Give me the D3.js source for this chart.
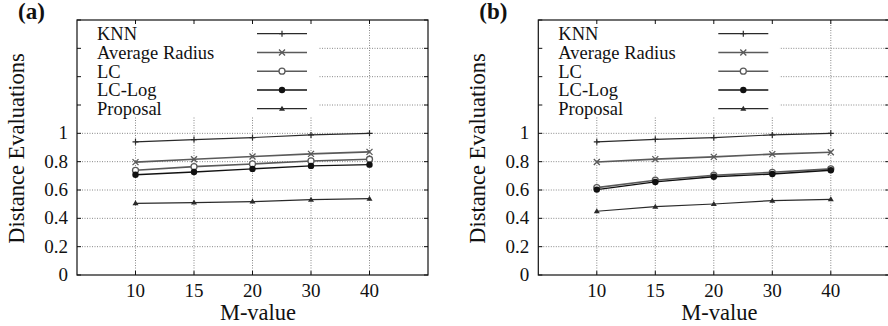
<!DOCTYPE html>
<html>
<head>
<meta charset="utf-8">
<script src="https://cdn.jsdelivr.net/npm/d3@7"></script>
<style>
  html, body { margin: 0; padding: 0; background: #fff; }
  svg { display: block; }
</style>
</head>
<body>
<svg id="chart" width="888" height="326"></svg>
<script>
// categories and tick labels
const mValues = ['10', '15', '20', '30', '40'];
const yTicks = [0, 0.2, 0.4, 0.6, 0.8, 1.0, 1.2, 1.4, 1.6, 1.8];
const yLabelTicks = [0, 0.2, 0.4, 0.6, 0.8, 1];
const seriesNames = ['KNN', 'Average Radius', 'LC', 'LC-Log', 'Proposal'];

// panel (a)
const knnA = [0.94, 0.956, 0.97, 0.989, 1.0];
const avgRadiusA = [0.797, 0.817, 0.836, 0.855, 0.869];
const lcA = [0.739, 0.765, 0.784, 0.805, 0.817];
const lcLogA = [0.708, 0.727, 0.749, 0.770, 0.779];
const proposalA = [0.506, 0.511, 0.518, 0.532, 0.539];

// panel (b)
const knnB = [0.94, 0.958, 0.97, 0.989, 1.0];
const avgRadiusB = [0.798, 0.818, 0.834, 0.853, 0.867];
const lcB = [0.617, 0.669, 0.704, 0.725, 0.749];
const lcLogB = [0.603, 0.657, 0.694, 0.713, 0.739];
const proposalB = [0.45, 0.482, 0.501, 0.525, 0.534];

const styles = [
  {color: '#2a2a2a', width: 1.2, marker: 'plus'},
  {color: '#5a5a5a', width: 1.6, marker: 'cross'},
  {color: '#5a5a5a', width: 1.6, marker: 'circle'},
  {color: '#111', width: 1.4, marker: 'dot'},
  {color: '#2a2a2a', width: 1.2, marker: 'triangle'}
];

const FONT = "'Liberation Serif', 'Times New Roman', Times, 'DejaVu Serif', serif";
const svg = d3.select('#chart');
const plotW = 351, plotH = 255;

function drawMarker(g, type, cx, cy, color) {
  if (type === 'plus') {
    g.append('path').attr('d', `M${cx - 3},${cy}H${cx + 3}M${cx},${cy - 3}V${cy + 3}`)
      .attr('stroke', color).attr('stroke-width', 1.2);
  } else if (type === 'cross') {
    g.append('path').attr('d', `M${cx - 3},${cy - 3}L${cx + 3},${cy + 3}M${cx - 3},${cy + 3}L${cx + 3},${cy - 3}`)
      .attr('stroke', color).attr('stroke-width', 1.3);
  } else if (type === 'circle') {
    g.append('circle').attr('cx', cx).attr('cy', cy).attr('r', 3)
      .attr('fill', '#fff').attr('stroke', color).attr('stroke-width', 1.3);
  } else if (type === 'dot') {
    g.append('circle').attr('cx', cx).attr('cy', cy).attr('r', 3.2).attr('fill', color);
  } else {
    g.append('path').attr('d', `M${cx},${cy - 3}L${cx + 3},${cy + 2}L${cx - 3},${cy + 2}Z`).attr('fill', color);
  }
}

function drawPanel(left, top, label, series) {
  const x = d3.scalePoint().domain(mValues).range([0, plotW]).padding(1);
  const y = d3.scaleLinear().domain([0, 1.8]).range([plotH, 0]);
  const g = svg.append('g').attr('transform', `translate(${left},${top})`)
    .attr('font-family', FONT).attr('fill', '#111');

  // grid
  g.selectAll('.hgrid').data(yTicks.filter(t => t > 0 && t < 1.8)).enter().append('line')
    .attr('x1', 0).attr('x2', plotW).attr('y1', d => y(d)).attr('y2', d => y(d))
    .attr('stroke', '#888').attr('stroke-width', 1).attr('stroke-dasharray', '1,1.5');
  g.selectAll('.vgrid').data(mValues).enter().append('line')
    .attr('x1', d => x(d)).attr('x2', d => x(d)).attr('y1', 0).attr('y2', plotH)
    .attr('stroke', '#888').attr('stroke-width', 1).attr('stroke-dasharray', '1,1.5');

  // legend (opaque box)
  g.append('rect').attr('x', 0.5).attr('y', 0.5).attr('width', 241).attr('height', 96.5).attr('fill', '#fff');

  // series
  const line = d3.line().x((d, i) => x(mValues[i])).y(d => y(d));
  series.forEach((vals, s) => {
    const st = styles[s];
    g.append('path').attr('d', line(vals)).attr('fill', 'none')
      .attr('stroke', st.color).attr('stroke-width', st.width);
    vals.forEach((v, i) => drawMarker(g, st.marker, x(mValues[i]), y(v), st.color));
  });

  // legend entries
  seriesNames.forEach((name, s) => {
    const ly = 13.7 + s * 18.75;
    const st = styles[s];
    g.append('text').attr('x', 20).attr('y', ly + 6.5).attr('font-size', 18.5).text(name);
    g.append('line').attr('x1', 180).attr('x2', 230).attr('y1', ly).attr('y2', ly)
      .attr('stroke', st.color).attr('stroke-width', st.width);
    drawMarker(g, st.marker, 205, ly, st.color);
  });

  // ticks
  yTicks.forEach(t => {
    g.append('line').attr('x1', 0).attr('x2', 4).attr('y1', y(t)).attr('y2', y(t)).attr('stroke', '#111');
    g.append('line').attr('x1', plotW - 4).attr('x2', plotW).attr('y1', y(t)).attr('y2', y(t)).attr('stroke', '#111');
  });
  mValues.forEach(m => {
    g.append('line').attr('x1', x(m)).attr('x2', x(m)).attr('y1', plotH).attr('y2', plotH - 4).attr('stroke', '#111');
    g.append('line').attr('x1', x(m)).attr('x2', x(m)).attr('y1', 0).attr('y2', 4).attr('stroke', '#111');
  });

  // frame
  g.append('rect').attr('x', 0).attr('y', 0).attr('width', plotW).attr('height', plotH)
    .attr('fill', 'none').attr('stroke', '#111').attr('stroke-width', 1.2);

  // tick labels
  g.selectAll('.ylab').data(yLabelTicks).enter().append('text')
    .attr('x', -9).attr('y', d => y(d) + 6).attr('text-anchor', 'end').attr('font-size', 19)
    .text(d => d3.format('')(d));
  g.selectAll('.xlab').data(mValues).enter().append('text')
    .attr('x', d => x(d)).attr('y', plotH + 22).attr('text-anchor', 'middle').attr('font-size', 19)
    .text(d => d);

  // axis titles
  g.append('text').attr('x', 181).attr('y', plotH + 45).attr('text-anchor', 'middle')
    .attr('font-size', 22.5).text('M-value');
  g.append('text').attr('transform', `translate(${-53},${plotH / 2 + 1}) rotate(-90)`)
    .attr('text-anchor', 'middle').attr('font-size', 22.5).text('Distance Evaluations');

  // panel label
  g.append('text').attr('x', -59).attr('y', -1).attr('font-size', 23).attr('font-weight', 'bold').text(label);
}

drawPanel(77, 20, '(a)', [knnA, avgRadiusA, lcA, lcLogA, proposalA]);
drawPanel(538.3, 20, '(b)', [knnB, avgRadiusB, lcB, lcLogB, proposalB]);
</script>
</body>
</html>
